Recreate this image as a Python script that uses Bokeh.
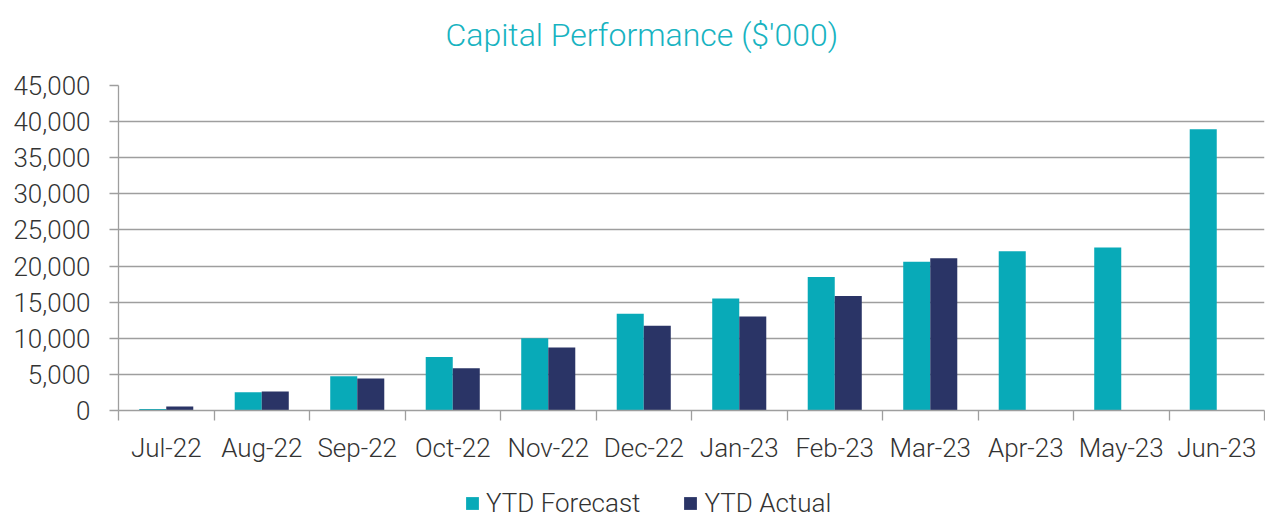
from bokeh.plotting import figure
from bokeh.layouts import column
from bokeh.models import (Range1d, FixedTicker, NumeralTickFormatter, ColumnDataSource,
                          Legend, LegendItem)
from bokeh.transform import dodge
from bokeh.embed import file_html
from bokeh.resources import INLINE
import numpy as np

months = ["Jul-22", "Aug-22", "Sep-22", "Oct-22", "Nov-22", "Dec-22",
          "Jan-23", "Feb-23", "Mar-23", "Apr-23", "May-23", "Jun-23"]
ytd_forecast = [200, 2530, 4750, 7420, 10010, 13380, 15510, 18500, 20580, 22060, 22570, 38950]
ytd_actual = [550, 2630, 4430, 5860, 8720, 11720, 13020, 15870, 21090, None, None, None]
y_ticks = [0, 5000, 10000, 15000, 20000, 25000, 30000, 35000, 40000, 45000]
series_names = ["YTD Forecast", "YTD Actual"]

TEAL = "#08AAB8"
NAVY = "#2A3466"
FONT = "'Roboto Light', Roboto"
TXT = "#333333"
GRID = "#9E9E9E"
FS = "26px"
W = 1265

pos = np.arange(len(months)) + 0.5
src = ColumnDataSource(dict(
    x=pos,
    f=ytd_forecast,
    a=[np.nan if v is None else v for v in ytd_actual],
))
bw = 0.283


def bare(h, **kw):
    f = figure(width=W, height=h, output_backend="svg", toolbar_location=None,
               x_axis_type=None, y_axis_type=None, **kw)
    f.outline_line_color = None
    f.xgrid.grid_line_color = None
    f.ygrid.grid_line_color = None
    return f


# ---- title strip ----
pt = bare(70, min_border_left=118, min_border_right=0, min_border_top=0, min_border_bottom=0)
pt.title.text = "Capital Performance ($'000)"
pt.title.text_font = FONT
pt.title.text_font_style = "normal"
pt.title.text_font_size = "32px"
pt.title.text_color = "#17B3C1"
pt.title.align = "left"
pt.title.offset = 327
pt.title.standoff = 26

# ---- main chart ----
p = figure(width=W, height=400, output_backend="svg", toolbar_location=None,
           x_range=Range1d(0, len(months)), y_range=Range1d(0, 45000),
           min_border_left=118, min_border_right=1, min_border_top=15, min_border_bottom=60)
p.outline_line_color = None

p.vbar(x=dodge("x", -bw / 2), top="f", width=bw, source=src, fill_color=TEAL, line_color=None)
p.vbar(x=dodge("x", bw / 2), top="a", width=bw, source=src, fill_color=NAVY, line_color=None)

xa = p.xaxis[0]
xa.ticker = FixedTicker(ticks=list(pos), minor_ticks=list(range(len(months) + 1)))
xa.major_label_overrides = {float(v): m for v, m in zip(pos, months)}
xa.major_tick_line_color = None
xa.minor_tick_line_color = GRID
xa.minor_tick_out = 10
xa.minor_tick_in = 0
xa.minor_tick_line_width = 1.3
xa.axis_line_color = GRID
xa.axis_line_width = 1.3
xa.major_label_text_font = FONT
xa.major_label_text_font_size = FS
xa.major_label_text_color = TXT
xa.major_label_standoff = 12

ya = p.yaxis[0]
ya.ticker = FixedTicker(ticks=y_ticks)
ya.formatter = NumeralTickFormatter(format="0,0")
ya.major_tick_out = 9
ya.major_tick_in = 0
ya.major_tick_line_color = GRID
ya.major_tick_line_width = 1.3
ya.minor_tick_line_color = None
ya.axis_line_color = GRID
ya.axis_line_width = 1.3
ya.major_label_text_font = FONT
ya.major_label_text_font_size = FS
ya.major_label_text_color = TXT
ya.major_label_standoff = 19

p.xgrid.grid_line_color = None
p.ygrid.ticker = FixedTicker(ticks=y_ticks)
p.ygrid.grid_line_color = GRID
p.ygrid.grid_line_width = 1.3

# ---- legend strip (same series, far outside its visible range; only the key shows) ----
pl = bare(48, min_border=0, x_range=Range1d(0, len(months)), y_range=Range1d(1e7, 2e7))
k1 = pl.vbar(x=dodge("x", -bw / 2), top="f", width=bw, source=src, fill_color=TEAL, line_color=None)
k2 = pl.vbar(x=dodge("x", bw / 2), top="a", width=bw, source=src, fill_color=NAVY, line_color=None)
legend = Legend(items=[LegendItem(label=series_names[0], renderers=[k1], index=0),
                       LegendItem(label=series_names[1], renderers=[k2], index=0)],
                orientation="horizontal", location=(346, 0),
                glyph_width=16, glyph_height=16, label_height=24,
                label_text_font=FONT, label_text_font_size=FS,
                label_text_color=TXT, label_standoff=6, spacing=42,
                padding=0, margin=0, border_line_color=None,
                background_fill_alpha=0)
pl.add_layout(legend, "center")

layout = column(pt, p, pl)
open("out.html", "w").write(file_html(layout, INLINE))
